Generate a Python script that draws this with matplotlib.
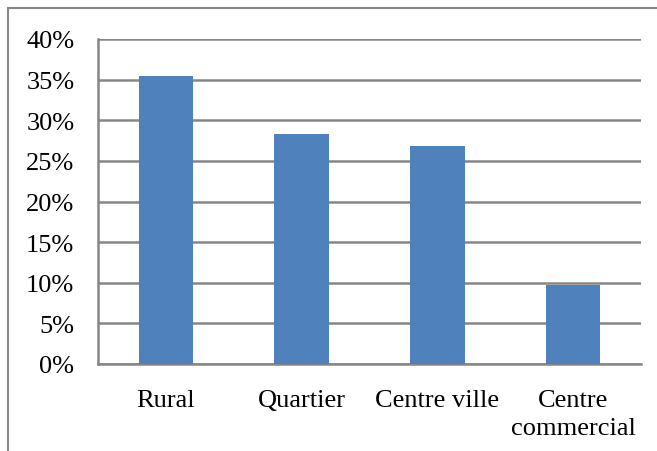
import matplotlib
matplotlib.use("Agg")
import matplotlib.pyplot as plt
from matplotlib.patches import Rectangle
from matplotlib.ticker import FuncFormatter

categories = ["Rural", "Quartier", "Centre ville", "Centre\ncommercial"]
values = [35.4, 28.3, 26.8, 9.7]
yticks = [0, 5, 10, 15, 20, 25, 30, 35, 40]

plt.rcParams['font.family'] = ['Liberation Serif', 'DejaVu Serif']

W, H = 657, 452
fig = plt.figure(figsize=(W / 100, H / 100), dpi=100)
ax = fig.add_axes([98 / W, 1 - 365 / H, (641 - 98) / W, (365 - 40) / H])

x = range(len(categories))
ax.bar(x, values, width=0.4, color="#4F81BD", zorder=3)
ax.set_xlim(-0.5, len(categories) - 0.5)
ax.set_ylim(0, 40)
ax.set_yticks(yticks)
ax.yaxis.set_major_formatter(FuncFormatter(lambda v, p: f"{int(v)}%"))
ax.set_xticks(list(x))
ax.set_xticklabels(categories, linespacing=1.38)
ax.grid(axis="y", color="#868686", linewidth=1.8, zorder=0)
for s in ["top", "right"]:
    ax.spines[s].set_visible(False)
for s in ["left", "bottom"]:
    ax.spines[s].set_color("#868686")
    ax.spines[s].set_linewidth(1.8)
ax.tick_params(axis="y", length=0, pad=17, labelsize=19)
ax.tick_params(axis="x", length=0, pad=18, labelsize=19)

fig.patches.append(Rectangle((8 / W, -0.1), 1.2, 1 - 9 / H + 0.1, transform=fig.transFigure,
                             fill=False, edgecolor="#868686", linewidth=1.5))

fig.savefig("out.png", dpi=100)
